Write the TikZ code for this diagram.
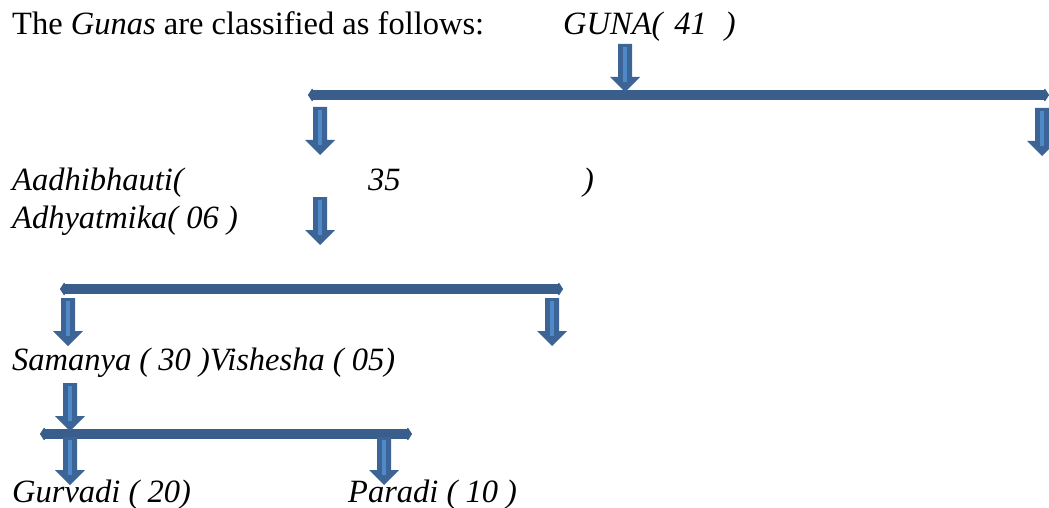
\documentclass[tikz,border=0pt]{standalone}
\usepackage{fontspec}
\setmainfont{Liberation Serif}
\usetikzlibrary{arrows.meta}
\definecolor{barcol}{HTML}{3A5E8C}
\definecolor{arrfill}{HTML}{3D6496}
\definecolor{arrstripe}{HTML}{5089C8}
\tikzset{
  txt/.style={anchor=base west,inner sep=0pt,font=\fontsize{32.5}{38}\selectfont},
  bar/.style={draw=barcol,line width=10pt,{Triangle[round,length=5pt,width=15pt]}-{Triangle[round,length=5pt,width=15pt]}},
  blockarr/.pic={
    \fill[arrfill] (-7,0) -- (7,0) -- (7,33) -- (15,33) -- (0,48) -- (-15,33) -- (-7,33) -- cycle;
    \fill[arrstripe] (-2,3) rectangle (2,38);
  }
}
\begin{document}
\begin{tikzpicture}[x=1pt,y=-1pt]
\useasboundingbox (0,0) rectangle (1049,508);
\begin{scope}
\clip (0,0) rectangle (1049,508);
% texts
\node[txt] (intro) at (12,35) {The \textit{Gunas} are classified as follows:};
\node[txt] (guna) at (563,35) {\textit{GUNA(\hspace{12pt}41\hspace{18pt})}};
\node[txt] (aadhi) at (12,190) {\textit{Aadhibhauti(}};
\node[txt] (aadhin) at (368,190) {\textit{35}};
\node[txt] (aadhip) at (583,190) {\textit{)}};
\node[txt] (adhy) at (12,228) {\textit{Adhyatmika( 06 )}};
\node[txt] (sam) at (12,370) {\textit{Samanya ( 30 )Vishesha ( 05)}};
\node[txt] (gur) at (12,502) {\textit{Gurvadi ( 20)}};
\node[txt] (par) at (348,502) {\textit{Paradi ( 10 )}};
% bars
\coordinate (b1l) at (308,95);
\coordinate (b1r) at (1049,95);
\coordinate (b2l) at (60,289);
\coordinate (b2r) at (563,289);
\coordinate (b3l) at (40,434);
\coordinate (b3r) at (412,434);
\draw[bar] (b1l) -- (b1r);
\draw[bar] (b2l) -- (b2r);
\draw[bar] (b3l) -- (b3r);
% block arrows
\pic (a0) at (625,44) {blockarr};
\pic (a1l) at (320,107) {blockarr};
\pic (a1r) at (1042,108) {blockarr};
\pic (a2) at (320,197) {blockarr};
\pic (a3l) at (68,298) {blockarr};
\pic (a3r) at (552,298) {blockarr};
\pic (a4) at (70,383) {blockarr};
\pic (a5l) at (70,437) {blockarr};
\pic (a5r) at (384,437) {blockarr};
\end{scope}
\end{tikzpicture}
\end{document}
